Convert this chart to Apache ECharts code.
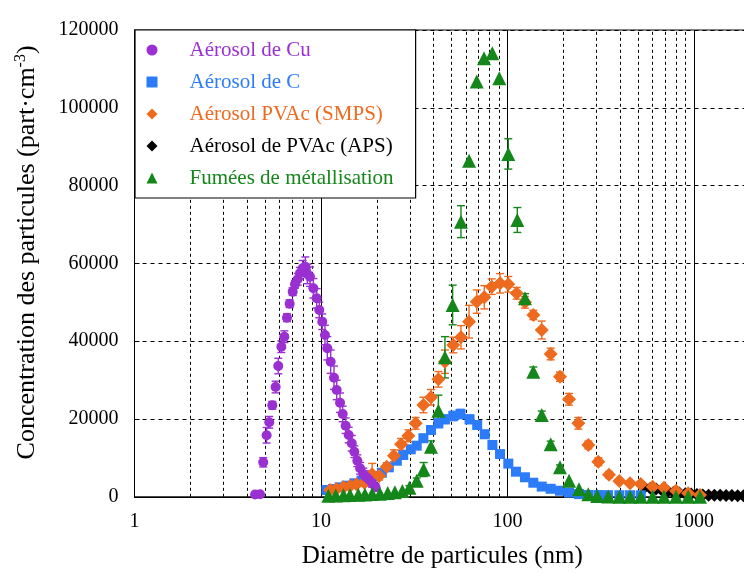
<!DOCTYPE html>
<html><head><meta charset="utf-8">
<script src="https://cdn.jsdelivr.net/npm/echarts@6/dist/echarts.min.js"></script>
<style>html,body{margin:0;padding:0;background:#fff;overflow:hidden}#c{width:744px;height:574px}</style>
</head><body><div id="c"></div>
<script>
// ---------- data ----------
const seriesNames = ['Aérosol de Cu', 'Aérosol de C', 'Aérosol PVAc (SMPS)', 'Aérosol de PVAc (APS)', 'Fumées de métallisation'];

const cuX = [4.43,4.71,4.90,5.11,5.28,5.48,5.71,5.90,6.13,6.36,6.57,6.79,7.05,7.25,7.50,7.71,7.97,8.24,8.45,8.73,9.10,9.48,9.79,10.16,10.50,10.81,11.27,11.74,12.14,12.65,13.07,13.56,14.08,14.62,15.09,15.66,16.2,16.86,17.4,18.0,18.8,19.6];
const cuY = [600,650,8870,15810,19150,23520,28220,33620,38590,41160,46040,49650,52740,54630,55910,57460,58750,59160,57280,56590,53600,51030,48030,45010,41600,38180,34730,30620,27460,24190,21290,18280,15890,13760,11600,9280,7330,5860,5170,4500,3470,2440];
const cuErr = [0,0,1200,2000,1500,1000,1500,2000,1500,1500,1000,1000,1000,1000,1500,1500,2000,2500,2500,2500,2500,2500,2000,2000,2500,3000,3000,3000,2500,2500,2000,2000,2000,2000,1500,1500,1500,1500,1500,1000,1000,1000];

const cX = [10.7,11.6,12.6,13.7,15.1,16.5,17.9,19.5,21.2,23.1,25.5,27.6,30.3,32.6,35.4,38.9,42.6,46.2,51.2,56.0,62.6,68.8,75.5,83.0,91.2,101,111,124,137.5,152.6,170.4,191.2,213.8,241.8,271,307,346,398,454,518];
const cY = [1750,2000,2440,2860,3470,4140,4500,5340,6190,7580,9280,10740,12210,13140,15050,17170,18890,19920,20780,21290,19920,18460,16070,13320,10980,8530,6460,5020,3620,2630,2060,1560,1060,690,470,450,420,400,400,380];
const cErr = [300,300,400,400,500,500,500,600,600,700,800,800,900,900,1000,1000,1100,1100,1200,1200,1100,1100,1000,1000,900,800,700,600,500,400,300,300,200,200,0,0,0,0,0,0];

const pX = [11.2,12.1,13.2,14.3,15.5,17.1,18.8,20.5,22.5,24.6,26.9,29.4,32.2,35.4,38.9,42.6,46.2,51.2,56.3,62.2,68.4,75.1,82.3,91.2,101,112,124,137.5,152.6,170.4,191.2,213.8,239.8,271.3,306.9,350,398,454,518,600,690,801,931,1077];
const pY = [1750,2000,2440,2780,3210,3620,5780,5340,7740,10570,13490,15700,18890,23600,25580,30200,34730,39020,41010,45020,50170,51290,54020,54880,54630,52320,50000,46740,42880,36710,30880,25070,18890,13320,9020,5680,4060,3470,3290,2590,2340,1560,890,460];
const pErr = [500,500,600,600,700,800,2800,1000,1000,1500,1500,1500,1500,2000,2000,2000,3000,2000,3000,4200,3000,3000,2000,2500,2000,1500,1500,1200,2300,1500,1200,1500,1500,1000,1000,800,0,0,0,0,0,0,0,0];

const aX = [542,583,626,673,723,777,835,898,965,1037,1114,1197,1286,1382,1486,1596,1715,1843,1981,2129];
const aY = [2420,2220,2010,1710,1400,1200,990,790,690,590,490,430,380,380,330,330,280,280,280,230];

const gX = [10.95,12.0,13.2,14.3,15.85,17.2,18.8,20.7,22.8,24.9,27.3,29.8,32.6,35.5,38.9,42.6,46.2,50.8,56.3,62.2,68.4,74.8,82.9,90.4,101,112.9,124.1,137.5,152.6,170.4,191.2,213.8,241.8,271.3,303,347,398,454,518,600,690,801,931,1077];
const gY = [300,350,400,450,500,600,700,800,950,1160,1490,2340,4140,7010,12880,22130,35870,49310,70730,86420,106730,112740,114020,107600,88140,71160,51030,32170,21030,13500,7590,4140,1930,650,200,80,40,20,10,0,0,0,0,0];
const gErr = [0,0,0,0,0,0,0,0,0,0,0,500,700,1800,1500,4000,5300,5100,4100,0,0,0,0,0,3900,3200,1200,1200,1000,800,600,0,0,0,0,0,0,0,0,0,0,0,0,0];

const minorX = [2,3,4,5,6,7,8,9,20,30,40,50,60,70,80,90,200,300,400,500,600,700,800,900,2000];
const yTickInterval = 20000;

// ---------- style ----------
const FONT = 'Liberation Serif';
const COL = {cu:'#9A2FD2', c:'#2C7CFA', p:'#EE6A1F', a:'#000000', g:'#14861A'};
const X_MAX = Math.pow(10, 3.3);

function pts(xs, ys){ return xs.map((x,i)=>[x, ys[i]]); }
function errs(xs, ys, es){ const r=[]; xs.forEach((x,i)=>{ if(es[i]>0) r.push([x, ys[i]-es[i], ys[i]+es[i]]); }); return r; }
function errSeries(name, xs, ys, es, color){
  return {
    name: name, type:'custom', silent:true, z:2,
    data: errs(xs, ys, es),
    encode:{x:0, y:[1,2]},
    renderItem: function(params, api){
      const x = api.value(0), lo = api.value(1), hi = api.value(2);
      const p1 = api.coord([x, hi]), p2 = api.coord([x, lo]);
      const w = 4;
      const st = {stroke: color, lineWidth: 1.4};
      return {type:'group', children:[
        {type:'line', shape:{x1:p1[0], y1:p1[1], x2:p2[0], y2:p2[1]}, style:st},
        {type:'line', shape:{x1:p1[0]-w, y1:p1[1], x2:p1[0]+w, y2:p1[1]}, style:st},
        {type:'line', shape:{x1:p2[0]-w, y1:p2[1], x2:p2[0]+w, y2:p2[1]}, style:st}
      ]};
    }
  };
}
function scat(name, xs, ys, symbol, size, color, z){
  return {name:name, type:'scatter', data:pts(xs, ys), symbol:symbol, symbolSize:size,
    itemStyle:{color:color, opacity:1}, z:z, emphasis:{disabled:true}};
}

const chart = echarts.init(document.getElementById('c'), null, {renderer:'canvas'});
const option = {
  animation:false,
  backgroundColor:'#fff',
  textStyle:{fontFamily:FONT},
  grid:{left:134.5, top:30, width:615.45, height:466.8, show:true, borderColor:'#000', borderWidth:1,
    backgroundColor:'transparent', containLabel:false, outerBoundsMode:'none'},
  xAxis:{
    type:'log', logBase:10, min:1, max:X_MAX,
    axisLine:{lineStyle:{color:'#000', width:1}},
    axisTick:{show:true, inside:true, length:5, lineStyle:{color:'#000'}},
    axisLabel:{color:'#000', fontFamily:FONT, fontSize:20, margin:15, showMaxLabel:false,
      formatter:function(v){ const l=Math.log10(v); return Math.abs(l-Math.round(l))<1e-6 ? String(Math.round(v)) : ''; }},
    splitLine:{show:true, lineStyle:{color:'#000', width:1}},
    name:'Diamètre de particules (nm)', nameLocation:'middle', nameGap:47,
    nameTextStyle:{color:'#000', fontFamily:FONT, fontSize:25}
  },
  yAxis:{
    type:'value', min:0, max:120000, interval:yTickInterval,
    axisLine:{show:true, lineStyle:{color:'#000', width:1}},
    axisTick:{show:true, inside:true, length:5, lineStyle:{color:'#000'}},
    axisLabel:{color:'#000', fontFamily:FONT, fontSize:20, margin:16, formatter:function(v){ return String(v); }},
    splitLine:{show:true, lineStyle:{color:'#000', width:1, type:[4,4]}},
    name:'Concentration des particules (part·cm{sup|-3})', nameLocation:'middle', nameGap:93, nameRotate:90,
    nameTextStyle:{color:'#000', fontFamily:FONT, fontSize:26, padding:[0,0,0,22],
      rich:{sup:{fontFamily:FONT, fontSize:16, padding:[0,0,13,0], color:'#000'}}}
  },
  legend:{
    orient:'vertical', left:135, top:30, padding:[9.5,22,9.5,11.5], z:20,
    itemWidth:11, itemHeight:11, itemGap:11,
    backgroundColor:'#fff', borderColor:'#000', borderWidth:1.2, borderRadius:0,
    selectedMode:false,
    data:[
      {name:seriesNames[0], textStyle:{color:COL.cu}},
      {name:seriesNames[1], textStyle:{color:COL.c}},
      {name:seriesNames[2], textStyle:{color:COL.p}},
      {name:seriesNames[3], textStyle:{color:COL.a}},
      {name:seriesNames[4], textStyle:{color:COL.g}}
    ],
    formatter:function(n){ return '{t|' + n + '}'; },
    textStyle:{fontFamily:FONT, fontSize:21, rich:{t:{fontFamily:FONT, fontSize:21, padding:[0,0,0,27]}}}
  },
  series:[
    {name:'minorGrid', type:'scatter', data:[], z:1, silent:true,
      markLine:{silent:true, symbol:['none','none'], animation:false, label:{show:false}, z:1,
        lineStyle:{type:[3,3], color:'#000', width:1},
        emphasis:{disabled:true},
        data:minorX.map(v=>({xAxis:v}))}},
    errSeries('errA', aX, aY, aY.map(()=>0), COL.a),
    scat(seriesNames[3], aX, aY, 'diamond', 13, COL.a, 3),
    errSeries('errC', cX, cY, cErr, COL.c),
    scat(seriesNames[1], cX, cY, 'rect', 10, COL.c, 3),
    errSeries('errP', pX, pY, pErr, COL.p),
    scat(seriesNames[2], pX, pY, 'diamond', 14, COL.p, 3),
    errSeries('errCu', cuX, cuY, cuErr, COL.cu),
    scat(seriesNames[0], cuX, cuY, 'circle', 10, COL.cu, 3),
    errSeries('errG', gX, gY, gErr, COL.g),
    scat(seriesNames[4], gX, gY, 'triangle', 14, COL.g, 3)
  ]
};
chart.setOption(option);
</script></body></html>
